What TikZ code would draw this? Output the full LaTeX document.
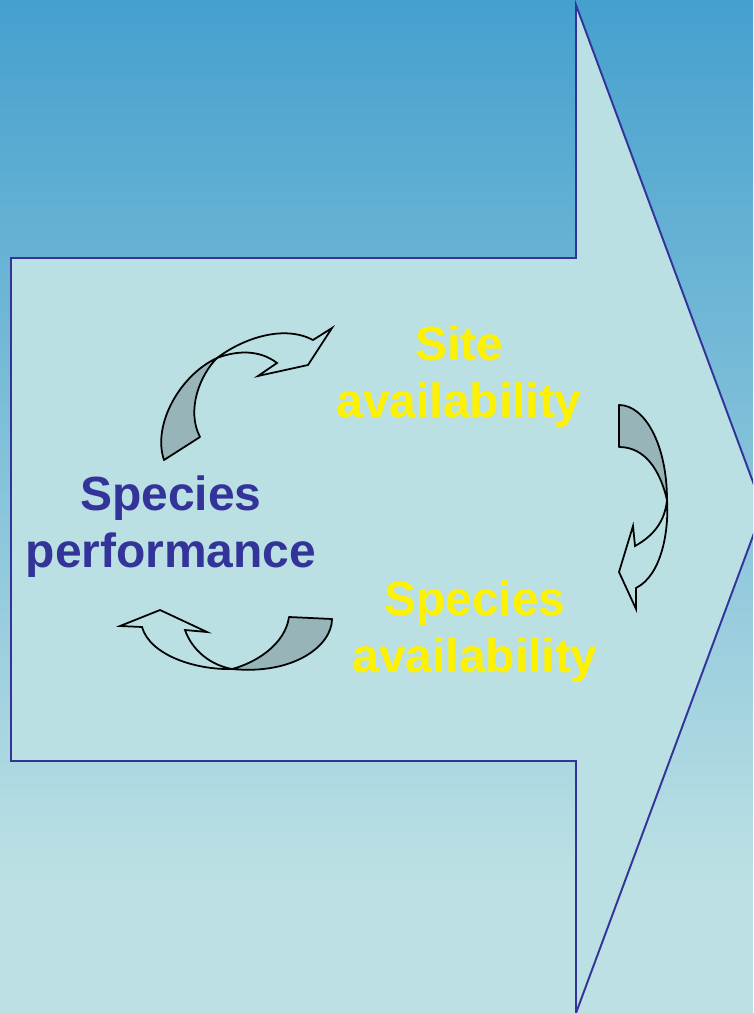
\documentclass[tikz,border=0pt]{standalone}
\usepackage{fontspec}
\setmainfont{Liberation Sans}

\definecolor{bgtop}{HTML}{45A0CE}
\definecolor{bgbottom}{HTML}{BCE0E4}
\definecolor{arrowfill}{HTML}{BAE0E3}
\definecolor{navy}{HTML}{333399}
\definecolor{backside}{HTML}{97B5B8}

\begin{document}
\begin{tikzpicture}[x=0.02cm,y=-0.02cm,
  bigarrow/.style={draw=navy,line width=1.1pt,fill=arrowfill,line join=miter},
  back/.style={draw=black,line width=1pt,fill=backside,line join=round},
  front/.style={draw=black,line width=1pt,fill=arrowfill,line join=miter},
  factor/.style={font=\fontsize{27.3}{32.3}\selectfont\bfseries,align=center,inner sep=0pt,anchor=base},
]

% === Frame ===
\useasboundingbox (0,0) rectangle (753,1013);
\clip (0,0) rectangle (753,1013);

% === Background ===
\fill[bgbottom] (0,0) rectangle (753,1013);
\shade[top color=bgtop,bottom color=bgbottom] (0,0) rectangle (753,880);

% === Big arrow ===
\draw[bigarrow] (11,258) -- (576,258) -- (576,5) -- (763,509) -- (576,1013)
  -- (576,761) -- (11,761) -- cycle;

% === Cycle arrows ===
% top left
\draw[back] (164,460) .. controls (152,425) and (180,375) .. (217,358)
  .. controls (200,375) and (186,410) .. (200,437) -- cycle;
\draw[front] (217,358) .. controls (245,337) and (285,325) .. (313,340)
  -- (332,328) -- (308,365) -- (258,376) -- (277,363)
  .. controls (260,350) and (238,350) .. (217,358) -- cycle;
% right
\draw[back] (619,405) .. controls (645,405) and (667,445) .. (667,500)
  .. controls (660,470) and (645,447) .. (619,447) -- cycle;
\draw[front] (667,500) .. controls (669,530) and (662,575) .. (636,588)
  -- (636,609) -- (619,572) -- (633,526) -- (635,546)
  .. controls (655,535) and (665,520) .. (667,500) -- cycle;
% bottom
\draw[back] (332,619) .. controls (332,645) and (295,675) .. (232,669)
  .. controls (255,663) and (285,645) .. (289,617) -- cycle;
\draw[front] (232,669) .. controls (195,670) and (150,655) .. (142,627)
  -- (120,626) -- (160,610) -- (207,632) -- (185,630)
  .. controls (192,650) and (210,665) .. (232,669) -- cycle;

% === Factors ===
\node[factor,text=navy] (perf) at (171,567) {Species\\performance};
\node[factor,text=yellow] (site) at (459,417) {Site\\availability};
\node[factor,text=yellow] (avail) at (475,672) {Species\\availability};

\end{tikzpicture}
\end{document}
